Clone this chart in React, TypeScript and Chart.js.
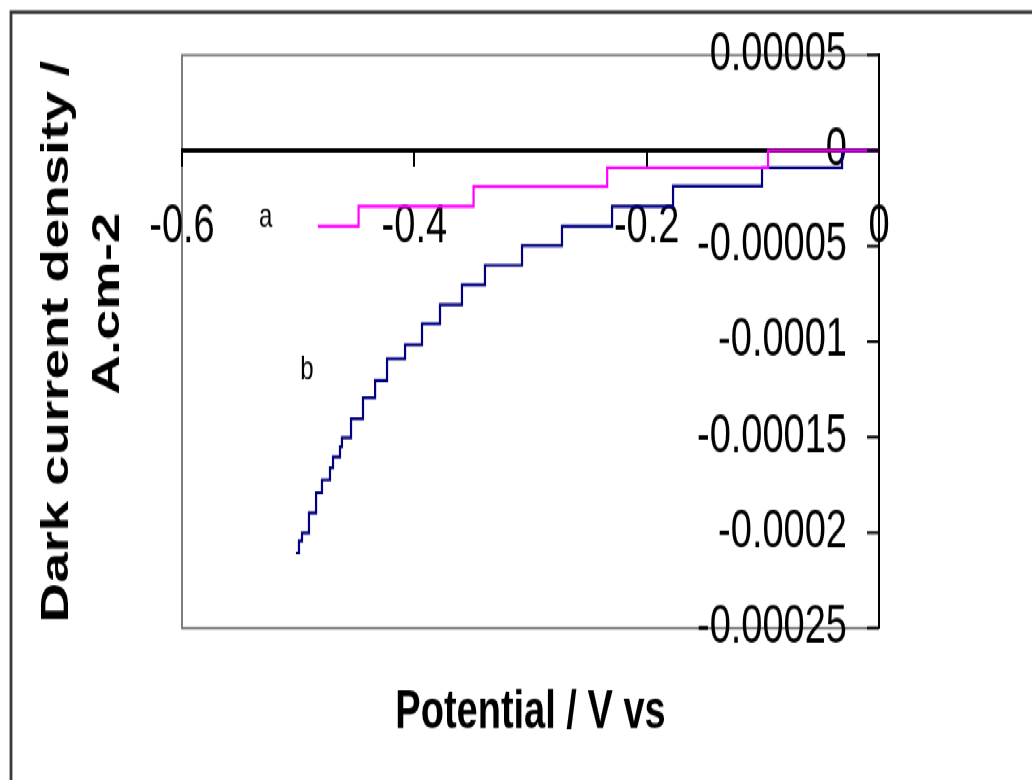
import React, { useEffect, useRef } from 'react';
import { Chart, registerables } from 'chart.js';

Chart.register(...registerables);

// ---- data ----
const potentialA = [-0.483, -0.448, -0.349, -0.234, -0.0955, 0];
const currentA = [-3.97e-5, -2.92e-5, -1.87e-5, -0.9e-5, 0, 0];

const potentialB = [
  -0.5019, -0.4993, -0.4967, -0.4907, -0.4846, -0.4795, -0.4726, -0.47, -0.464, -0.4623,
  -0.4545, -0.4442, -0.4338, -0.4235, -0.408, -0.3934, -0.3779, -0.359, -0.3392, -0.3073,
  -0.2729, -0.2298, -0.1773, -0.1007, -0.0318, 0,
];
const currentB = [
  -21.07e-5, -20.44e-5, -20.02e-5, -18.97e-5, -17.92e-5, -17.24e-5, -16.61e-5, -16.04e-5, -15.51e-5, -15.04e-5,
  -14.05e-5, -12.95e-5, -12.05e-5, -10.9e-5, -10.17e-5, -9.07e-5, -8.07e-5, -7.02e-5, -6.01e-5, -4.98e-5,
  -3.97e-5, -2.92e-5, -1.86e-5, -0.91e-5, 0, 0,
];

const xTickValues = [-0.6, -0.4, -0.2, 0];
const xTickLabels = ['-0.6', '-0.4', '-0.2', '0'];
const yTickValues = [-0.00025, -0.0002, -0.00015, -0.0001, -0.00005, 0, 0.00005];
const yTickLabels = ['-0.00025', '-0.0002', '-0.00015', '-0.0001', '-0.00005', '0', '0.00005'];

const curveLabels = ['a', 'b'];
const curveLabelX = [-0.528, -0.4924];
const curveLabelY = [-3.5e-5, -11.5e-5];

const xTitle = 'Potential / V vs';
const yTitle = ['Dark current density /', '     A.cm-2'];

// ---- layout constants ----
const STRETCH_Y = 1.4;
const CANVAS_W = 1032;
const CANVAS_H = 557;
const FONT = '"Liberation Sans", Arial, Helvetica, sans-serif';

const decorPlugin = {
  id: 'decor',
  beforeDraw(chart: any) {
    const { ctx, chartArea } = chart;
    const { left, top, right, bottom } = chartArea;
    ctx.save();
    // outer frame (left + top)
    ctx.strokeStyle = '#3a3a3a';
    ctx.lineWidth = 2.8;
    ctx.beginPath();
    ctx.moveTo(11, chart.height + 5);
    ctx.lineTo(11, 8.6);
    ctx.lineTo(chart.width + 5, 8.6);
    ctx.stroke();
    // plot frame
    ctx.strokeStyle = '#707070';
    ctx.lineWidth = 1.8;
    ctx.beginPath();
    ctx.moveTo(right, top);
    ctx.lineTo(left, top);
    ctx.lineTo(left, bottom);
    ctx.lineTo(right, bottom);
    ctx.stroke();
    ctx.restore();
  },
  afterDraw(chart: any) {
    const { ctx, chartArea, scales } = chart;
    const ys = scales.y;
    const xs = scales.x;
    ctx.save();
    ctx.strokeStyle = '#000';
    ctx.lineWidth = 2;
    ctx.beginPath();
    for (const v of yTickValues) {
      const py = ys.getPixelForValue(v);
      ctx.moveTo(chartArea.right - 12, py);
      ctx.lineTo(chartArea.right, py);
    }
    ctx.stroke();
    ctx.fillStyle = '#000';
    ctx.font = `24px ${FONT}`;
    ctx.textAlign = 'center';
    ctx.textBaseline = 'middle';
    curveLabels.forEach((t, i) => {
      ctx.fillText(t, xs.getPixelForValue(curveLabelX[i]), ys.getPixelForValue(curveLabelY[i]));
    });
    ctx.restore();
  },
};

export default function App() {
  const ref = useRef<HTMLCanvasElement>(null);

  useEffect(() => {
    const canvas = ref.current;
    if (!canvas) return;
    const chart = new Chart(canvas, {
      type: 'line',
      data: {
        datasets: [
          {
            label: 'a',
            data: potentialA.map((x, i) => ({ x, y: currentA[i] })),
            borderColor: '#ff00ff',
            backgroundColor: '#ff00ff',
            borderWidth: 2.2,
            pointRadius: 0,
            stepped: true,
            fill: false,
            xAxisID: 'x',
            yAxisID: 'y',
          },
          {
            label: 'b',
            data: potentialB.map((x, i) => ({ x, y: currentB[i] })),
            borderColor: '#000080',
            backgroundColor: '#000080',
            borderWidth: 2.2,
            pointRadius: 0,
            stepped: true,
            fill: false,
            xAxisID: 'x',
            yAxisID: 'y',
          },
        ],
      },
      options: {
        responsive: false,
        animation: false,
        events: [],
        layout: { padding: { left: 20, right: 133, top: 39.3, bottom: 24.9 } },
        plugins: { legend: { display: false }, tooltip: { enabled: false } },
        scales: {
          x: {
            type: 'linear',
            position: { y: 0 } as any,
            min: -0.6,
            max: 0,
            afterBuildTicks: (s: any) => {
              s.ticks = xTickValues.map((v) => ({ value: v }));
            },
            ticks: {
              autoSkip: false,
              maxRotation: 0,
              padding: 22,
              color: '#000',
              font: { family: FONT, size: 38 },
              callback: (_v: any, i: number) => xTickLabels[i],
            },
            grid: { display: true, drawOnChartArea: false, drawTicks: true, tickLength: 10, color: '#000', lineWidth: 2 },
            border: { display: true, color: '#000', width: 3 },
          },
          y: {
            type: 'linear',
            position: 'right',
            min: -0.00025,
            max: 0.00005,
            afterBuildTicks: (s: any) => {
              s.ticks = yTickValues.map((v) => ({ value: v }));
            },
            afterFit: (s: any) => {
              s.width = 20;
            },
            ticks: {
              mirror: true,
              padding: -32,
              autoSkip: false,
              color: '#000',
              font: { family: FONT, size: 38 },
              callback: (_v: any, i: number) => yTickLabels[i],
            },
            grid: { display: false, drawTicks: false },
            border: { display: true, color: '#000', width: 2 },
          },
          yTitle: {
            type: 'linear',
            position: 'left',
            min: 0,
            max: 1,
            afterFit: (s: any) => {
              s.width = 162;
            },
            ticks: { display: false },
            grid: { display: false, drawTicks: false },
            border: { display: false },
            title: {
              display: true,
              text: yTitle,
              color: '#000',
              font: { family: FONT, size: 39, weight: 'bold', lineHeight: 1.31 },
              padding: { top: 11.5, bottom: 0 },
            },
          },
          xTitle: {
            type: 'linear',
            position: 'bottom',
            min: 0,
            max: 1,
            afterFit: (s: any) => {
              s.height = 83.5;
            },
            ticks: { display: false },
            grid: { display: false, drawTicks: false },
            border: { display: false },
            title: {
              display: true,
              text: xTitle,
              color: '#000',
              font: { family: FONT, size: 38, weight: 'bold', lineHeight: 1.2 },
              padding: { top: 38, bottom: 0 },
            },
          },
        },
      } as any,
      plugins: [decorPlugin],
    });
    return () => chart.destroy();
  }, []);

  return (
    <div
      style={{
        position: 'absolute',
        left: 0,
        top: 0,
        width: CANVAS_W,
        height: CANVAS_H,
        transform: `scaleY(${STRETCH_Y})`,
        transformOrigin: '0 0',
        background: '#fff',
      }}
    >
      <canvas ref={ref} width={CANVAS_W} height={CANVAS_H} style={{ display: 'block' }} />
    </div>
  );
}
